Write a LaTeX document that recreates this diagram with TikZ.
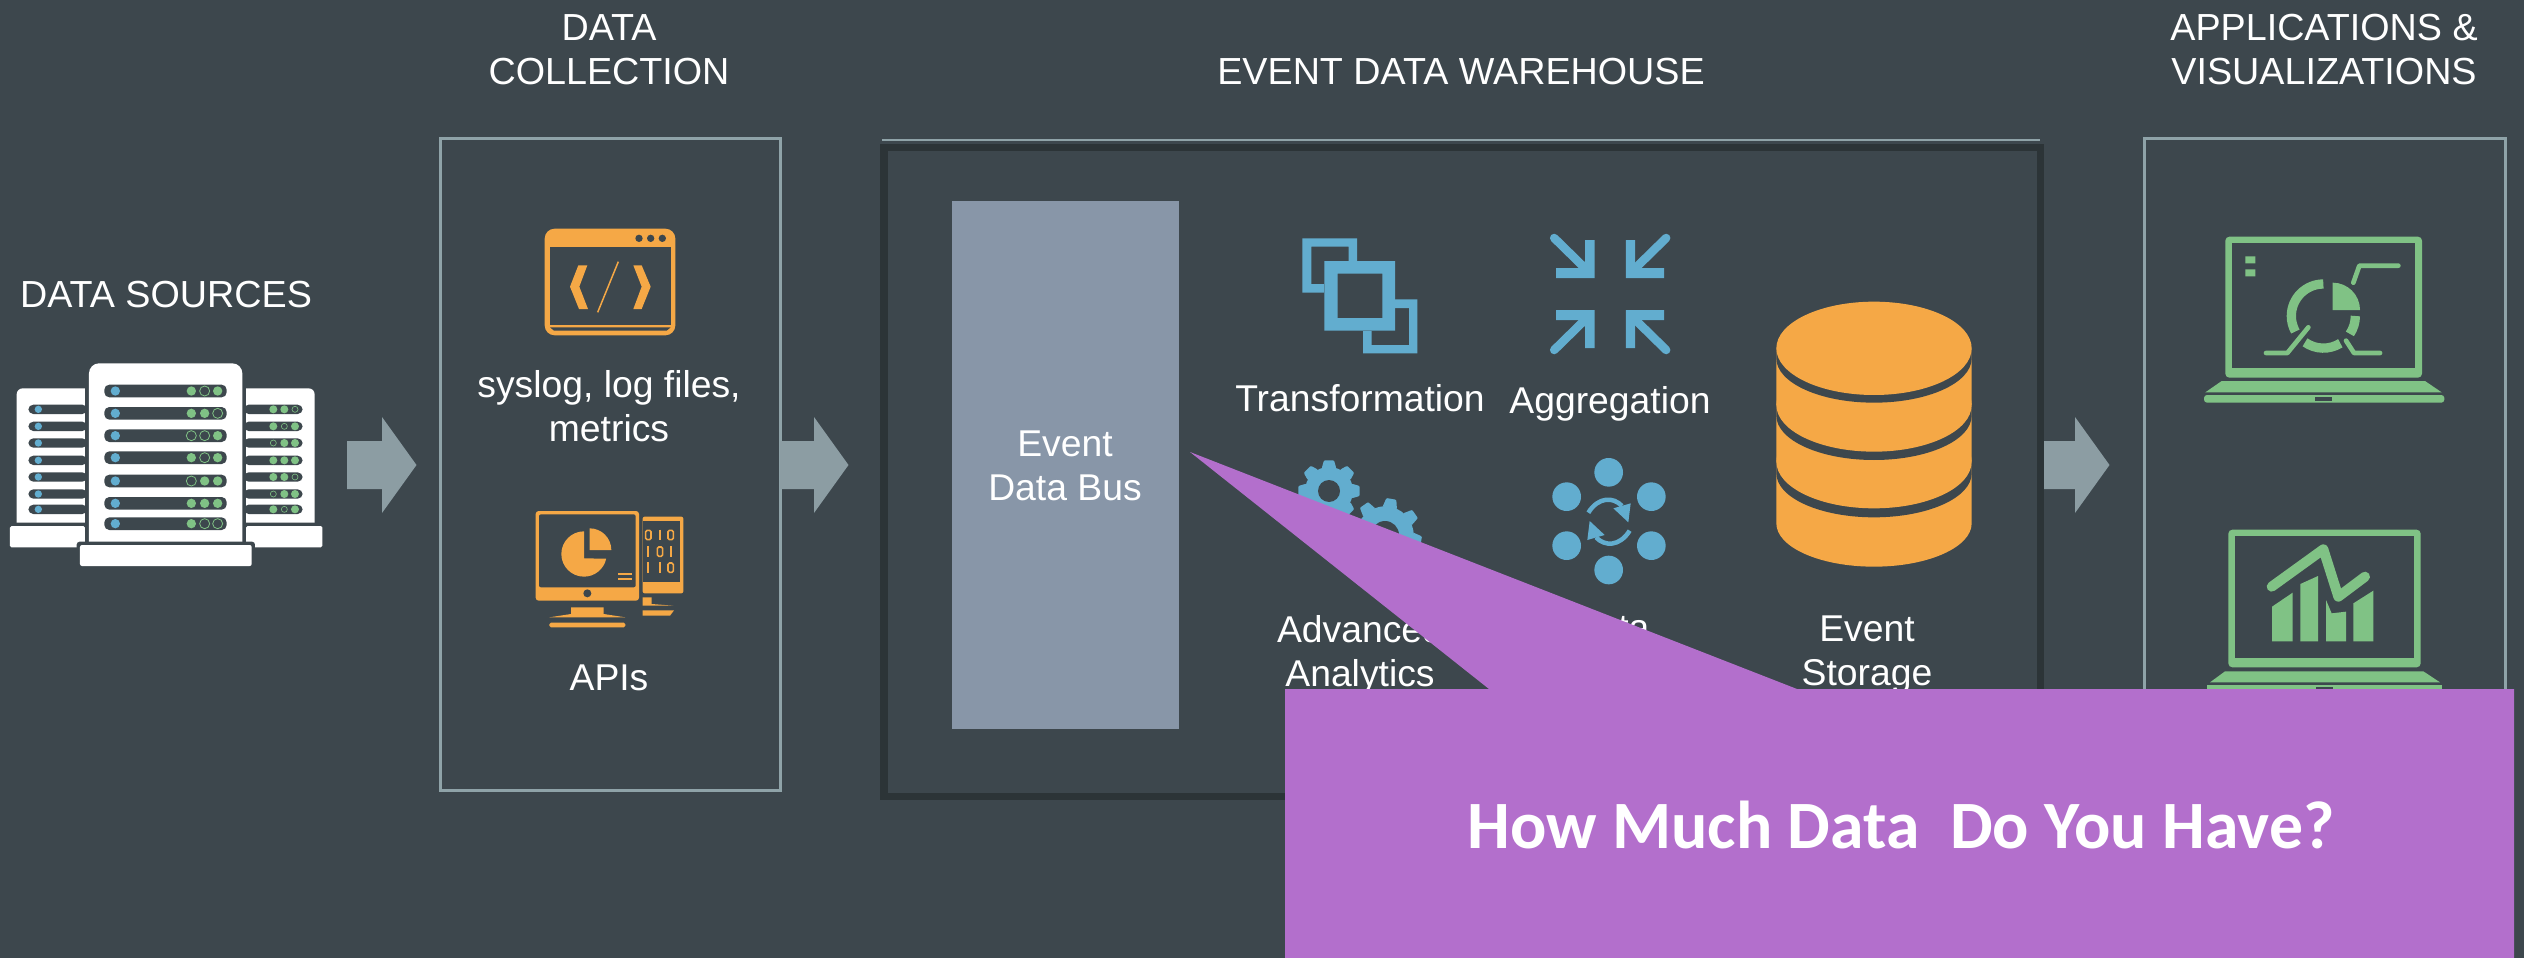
\documentclass[tikz,border=0pt]{standalone}
\usepackage{fontspec}
\setmainfont{Liberation Sans}
\newfontfamily\calloutfont{Carlito}[Scale=1]
\definecolor{bgc}{HTML}{3D474D}
\definecolor{framec}{HTML}{8FA3A8}
\definecolor{darkc}{HTML}{2C3437}
\definecolor{busc}{HTML}{8896A8}
\definecolor{arrowc}{HTML}{8C9DA3}
\definecolor{purplec}{HTML}{B36FCC}
\definecolor{orangec}{HTML}{F5A846}
\definecolor{bluec}{HTML}{62ADCF}
\definecolor{greenc}{HTML}{80C285}
\tikzset{
  lbl/.style={text=white,font=\fontsize{37.3}{44}\selectfont,align=center,inner sep=0pt},
  hdg/.style={text=white,font=\fontsize{37.7}{44}\selectfont,align=center,inner sep=0pt},
  panel/.style={draw=framec,line width=3pt},
  flowarrow/.style={fill=arrowc},
  srv/.style={fill=white},
  rowbar/.style={fill=bgc,rounded corners=5pt},
}
\newcommand{\bigled}[3]{\ifnum#3=1 \fill[greenc] (#1,#2) circle (14);\else \draw[greenc,line width=.8pt] (#1,#2) circle (15);\fi}
\newcommand{\smallled}[3]{\ifnum#3=1 \fill[greenc] (#1,#2) circle (12);\else \draw[greenc,line width=.6pt] (#1,#2) circle (9);\fi}
\newcommand{\flowarrowat}[2]{\fill[flowarrow] (#1,441) -- ++(#2,0) -- ++(0,-24) -- ++(34.5,48) -- ++(-34.5,48) -- ++(0,-24) -- ++(-#2,0) -- cycle;}
\begin{document}
\begin{tikzpicture}[x=1pt,y=1pt,yscale=-1]
\useasboundingbox (0,0) rectangle (2524,958);
\fill[bgc] (0,0) rectangle (2524,958);

% panels
\node[panel,minimum width=340pt,minimum height=652pt,inner sep=0pt] (collect) at (610,464) {};
\draw[framec,line width=2.5pt] (882,140) -- (2040,140);
\node[draw=darkc,line width=7.5pt,minimum width=1156.5pt,minimum height=649pt,inner sep=0pt] (warehouse) at (1462.25,472) {};
\node[panel,minimum width=361pt,minimum height=640pt,inner sep=0pt] (apps) at (2324.5,458) {};
\node[fill=busc,minimum width=227pt,minimum height=528pt,inner sep=0pt] (bus) at (1065.5,465) {};

% flow arrows
\flowarrowat{347}{35}
\flowarrowat{780}{34}
\flowarrowat{2044}{31}

% headings
\node[hdg] (hsrc) at (166,295) {DATA SOURCES};
\node[hdg] (hcol) at (609,50) {DATA\\COLLECTION};
\node[hdg] (hwh) at (1461,72) {EVENT DATA WAREHOUSE};
\node[hdg] (happ) at (2324,50) {APPLICATIONS \&\\VISUALIZATIONS};
\node[lbl] (tsys) at (609,406) {syslog, log files,\\metrics};
\node[lbl] (tapi) at (609,678) {APIs};
\node[lbl] (tbus) at (1065,466) {Event\\Data Bus};
\node[lbl] (ttr) at (1360,398) {Transformation};
\node[lbl] (tag) at (1610,404) {Aggregation};
\node[lbl] (tadv) at (1360,655) {Advanced\\Analytics};
\node[lbl,anchor=base] (tdata) at (1610,640) {Data};
\node[lbl] (tsto) at (1867,655) {Event\\Storage};

% servers
\begin{scope}[shift={(0,340)},scale=1/3]
  \fill[srv] (50,548) -- (50,163) arc[start angle=180,end angle=270,radius=18] -- (255,145) -- (255,548) -- cycle;
  \fill[srv] (738,548) -- (738,145) -- (926,145) arc[start angle=270,end angle=360,radius=18] -- (944,548) -- cycle;
  \fill[srv,rounded corners=1.5pt] (30,558) rectangle (255,622);
  \fill[srv,rounded corners=1.5pt] (738,558) rectangle (967,622);
  \foreach \y in {208,259,309,361,411,462,508}{
    \fill[rowbar] (85,\y-14) rectangle (262,\y+14);
    \fill[rowbar] (731,\y-14) rectangle (908,\y+14);
    \fill[bluec] (115,\y) circle (11);
  }
  \foreach \y/\a/\b/\c in {208/1/1/0,259/1/0/1,309/0/1/1,361/1/1/1,411/1/1/0,462/0/1/1,508/1/0/1}{
    \smallled{820}{\y}{\a}\smallled{853}{\y}{\b}\smallled{885}{\y}{\c}
  }
  \fill[bgc] (255,140) rectangle (267,640);
  \fill[bgc] (727,140) rectangle (738,640);
  \fill[srv] (267,615) -- (267,100) arc[start angle=180,end angle=270,radius=30] -- (697,70) arc[start angle=270,end angle=360,radius=30] -- (727,615) -- cycle;
  \fill[bgc,rounded corners=3pt] (230,650) -- (230,605) -- (765,605) -- (765,650) -- cycle;
  \fill[srv,rounded corners=2pt] (240,615) rectangle (755,678);
  \foreach \y/\a/\b/\c in {153/1/0/1,220/1/1/0,287/0/0/1,353/1/0/1,423/0/1/1,490/1/1/1,551/1/0/0}{
    \fill[rowbar] (313,\y-19) rectangle (680,\y+19);
    \fill[bluec] (346,\y) circle (14);
    \bigled{574}{\y}{\a}\bigled{614}{\y}{\b}\bigled{653}{\y}{\c}
  }
\end{scope}

% window and monitor icons
\begin{scope}[shift={(500,200)},scale=1/3]
  \fill[orangec,rounded corners=10pt] (134,86) rectangle (526,406);
  \fill[bgc] (150,140) rectangle (512,376);
  \fill[bgc] (150,382) -- (512,382) -- (500,392) -- (162,392) -- cycle;
  \foreach \x in {417,452,487}{\fill[bgc] (\x,115) circle (11);}
  \fill[orangec] (235,196) -- (262,196) -- (238,260) -- (264,327) -- (237,327) -- (210,260) -- cycle;
  \fill[orangec] (425,196) -- (400,196) -- (425,260) -- (400,327) -- (425,327) -- (452,260) -- cycle;
  \draw[orangec,line width=1.5pt] (355,185) -- (293,337);
  % monitor
  \fill[orangec,rounded corners=3pt] (107,933) rectangle (417,1202);
  \fill[bgc,rounded corners=2pt] (117,943) rectangle (407,1162);
  \fill[bgc] (262,1180) circle (12);
  \fill[orangec] (213,1222) -- (311,1222) -- (311,1242) -- (376,1252) -- (148,1252) -- (213,1242) -- cycle;
  \fill[orangec,rounded corners=1.5pt] (148,1268) rectangle (376,1282);
  \fill[orangec] (252,994) arc[start angle=270,delta angle=-258,radius=68] -- (252,1075) -- cycle;
  \fill[orangec] (269,1050) -- (269,985) arc[start angle=270,end angle=360,radius=65] -- cycle;
  \draw[orangec,line width=1.7pt] (355,1122) -- (396,1122) (355,1138) -- (396,1138);
  % side unit
  \fill[orangec,rounded corners=2pt] (428,950) -- (550,950) -- (550,1180) -- (428,1180) -- cycle;
  \fill[bgc] (428,962) -- (541,962) -- (541,1146) -- (428,1146) -- cycle;
  \foreach \x/\y in {445/1005,512/1005,480/1055,512/1103}{
    \draw[orangec,line width=1.6pt,rounded corners=1.5pt] (\x-8,\y-14) rectangle (\x+8,\y+14);}
  \foreach \x/\y in {480/1005,445/1055,512/1055,445/1103,480/1103}{
    \draw[orangec,line width=2pt] (\x,\y-16) -- (\x,\y+16);}
  \fill[orangec] (428,1192) -- (455,1192) -- (455,1212) -- (520,1217) -- (428,1217) -- cycle;
  \fill[orangec] (428,1231) -- (522,1231) -- (510,1247) -- (428,1247) -- cycle;
\end{scope}

% blue icons
\begin{scope}[shift={(1270,210)},scale=1/3]
  \fill[bluec,even odd rule] (97,85) rectangle (261,248) (124,110) rectangle (236,222);
  \fill[bluec,even odd rule] (279,268) rectangle (442,430) (305,294) rectangle (417,405);
  \fill[bgc] (163,153) rectangle (375,362);
  \fill[bluec,even odd rule] (163,153) rectangle (375,362) (203,191) rectangle (337,324);
  \foreach \sx/\sy in {1/1,-1/1,1/-1,-1/-1}{
    \begin{scope}[shift={(1020.5,252)},xscale=\sx,yscale=\sy]
      \fill[bluec] (-75,-162) -- (-47,-162) -- (-47,-48) -- (-162,-48) -- (-162,-78) -- (-75,-78) -- cycle;
      \draw[bluec,line width=8.5pt,line cap=round] (-168,-168) -- (-72,-74);
    \end{scope}
  }
  % gears
  \foreach \cx/\cy/\r/\h/\tl/\off in {177/843/72/33/92/0,345/975/86/42/110/10}{
    \fill[bluec] (\cx,\cy) circle (\r);
    \foreach \a in {0,45,...,315}{
      \fill[bluec,rotate around={\a+\off:(\cx,\cy)},rounded corners=1pt] (\cx-22,\cy-\r+4) -- (\cx-15,\cy-\tl) -- (\cx+15,\cy-\tl) -- (\cx+22,\cy-\r+4) -- cycle;
    }
    \fill[bgc] (\cx,\cy) circle (\h);
  }
  % network
  \foreach \x/\y in {1016/787,890/860,1144/860,890/1007,1144/1007,1016/1080}{\fill[bluec] (\x,\y) circle (43);}
  \draw[bluec,line width=4.5pt] (955,908) .. controls (985,860) and (1030,860) .. (1056,888);
  \fill[bluec] (1082,880) -- (1075,937) -- (1030,895) -- cycle;
  \draw[bluec,line width=4.5pt] (1079,962) .. controls (1049,1010) and (1004,1010) .. (978,982);
  \fill[bluec] (952,990) -- (959,933) -- (1004,975) -- cycle;
\end{scope}

% database
\begin{scope}[shift={(1740,280)},scale=1/3]
  \fill[orangec] (109,205) -- (109,730) arc[start angle=180,end angle=0,x radius=293,y radius=130] -- (695,205) -- cycle;
  \foreach \t/\d/\b in {545/580/132,375/407/133,205/235/133}{
    \fill[bgc] (109,\t) -- (109,\d) arc[start angle=180,end angle=0,x radius=293,y radius=\b] -- (695,\t) -- cycle;
    \fill[orangec] (402,\t) ellipse[x radius=293,y radius=140];
  }
\end{scope}

% laptops
\begin{scope}[shift={(2180,210)},scale=1/3]
  \fill[greenc,rounded corners=4pt] (136,80) rectangle (726,503);
  \fill[bgc] (157,100) rectangle (705,473);
  \fill[greenc] (125,513) -- (735,513) -- (785,547) -- (76,547) -- cycle;
  \fill[greenc,rounded corners=3pt] (72,555) -- (793,555) -- (793,578) -- (72,578) -- cycle;
  \fill[bgc] (405,562) rectangle (457,574);
  \fill[greenc] (196,139) rectangle (226,160) (196,178) rectangle (226,199);
  \draw[greenc,line width=9.3pt] (430,222) arc[start angle=270,end angle=151,radius=96];
  \draw[greenc,line width=9.3pt] (375,397) arc[start angle=125,end angle=58,radius=96];
  \draw[greenc,line width=9.3pt] (526,318) arc[start angle=0,end angle=34,radius=96];
  \fill[greenc] (458,300) -- (458,218) arc[start angle=270,end angle=360,radius=82] -- cycle;
  \draw[greenc,line width=4.7pt,line cap=round,line join=round] (520,218) -- (538,167) -- (655,167);
  \draw[greenc,line width=4.7pt,line cap=round,line join=round] (258,429) -- (322,429) -- (385,352);
  \draw[greenc,line width=4.7pt,line cap=round,line join=round] (498,392) -- (522,429) -- (600,429);
  % second
  \fill[greenc,rounded corners=4pt] (145,959) rectangle (722,1372);
  \fill[bgc] (165,978) rectangle (703,1343);
  \fill[greenc] (135,1384) -- (730,1384) -- (780,1417) -- (90,1417) -- cycle;
  \fill[greenc] (80,1425) -- (787,1425) -- (787,1445) -- (80,1445) -- cycle;
  \fill[bgc] (409,1432) rectangle (459,1445);
  \fill[greenc] (276,1190) -- (338,1148) -- (338,1294) -- (276,1294) -- cycle;
  \fill[greenc] (361,1122) -- (414,1098) -- (414,1294) -- (361,1294) -- cycle;
  \fill[greenc] (438,1170) -- (455,1210) -- (498,1205) -- (498,1294) -- (438,1294) -- cycle;
  \fill[greenc] (520,1180) -- (580,1142) -- (580,1294) -- (520,1294) -- cycle;
  \draw[greenc,line width=10pt,line cap=round,line join=round] (275,1130) -- (430,1018) -- (475,1160) -- (555,1100);
\end{scope}

% callout
\fill[purplec] (1285,689) -- (1489,689) -- (1190,452) -- (1797,689) -- (2514,689) -- (2514,958) -- (1285,958) -- cycle;
\node[text=white,inner sep=0pt,anchor=base] (ctext) at (1901,848) {\calloutfont\bfseries\fontsize{67.7}{80}\selectfont How Much Data\ \ Do You Have?};
\end{tikzpicture}
\end{document}
